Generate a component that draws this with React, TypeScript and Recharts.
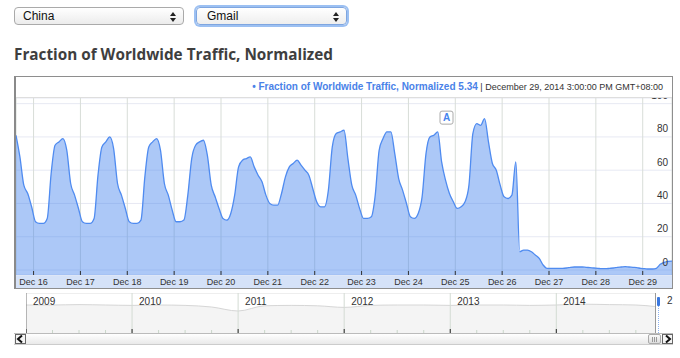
import React from "react";
import {
  ComposedChart,
  AreaChart,
  Area,
  XAxis,
  YAxis,
  CartesianGrid,
  ReferenceDot,
  ReferenceLine,
} from "recharts";

// hours counted from Dec 16 00:00 (GMT+08:00), one reading every 2 hours
const START_HOUR = -9;
const STEP_HOURS = 2;

const dec15 = [81, 68, 51, 46, 38];
const dec16 = [29, 28, 28, 31, 58, 75, 77, 79, 72, 52, 45, 37];
const dec17 = [29, 28, 28, 31, 57, 74, 77, 80, 73, 52, 45, 37];
const dec18 = [29, 28, 28, 30, 56, 74, 77, 79, 72, 52, 45, 36];
const dec19 = [29, 29, 30, 45, 67, 75, 77, 78, 69, 51, 44, 37];
const dec20 = [31, 30, 34, 45, 62, 66, 67, 68, 62, 57, 53, 45];
const dec21 = [40, 39, 39, 46, 56, 62, 64, 66, 63, 60, 57, 49];
const dec22 = [41, 38, 38, 48, 74, 82, 83, 84, 67, 51, 45, 37];
const dec23 = [31, 31, 32, 45, 72, 79, 83, 83, 70, 55, 48, 40];
const dec24 = [32, 31, 34, 44, 70, 80, 81, 83, 65, 54, 46, 41];
const dec25 = [37, 38, 41, 51, 82, 88, 87, 91, 77, 64, 60, 51];
const dec26 = [44, 43, 45, 65, 11, 12, 12, 11, 9, 7, 3, 1];
const dec27 = [1, 1, 1, 1, 1.2, 1.6, 1.8, 1.8, 1.8, 1.6, 1.4, 1.2];
const dec28 = [1, 0.8, 0.8, 1, 1.2, 1.6, 1.8, 2, 1.8, 1.6, 1.4, 1];
const dec29 = [0.8, 0.6, 0.6, 1, 3.4, 4.6, 5.2, 5.34];

const dayLabels = [
  "Dec 16", "Dec 17", "Dec 18", "Dec 19", "Dec 20", "Dec 21", "Dec 22",
  "Dec 23", "Dec 24", "Dec 25", "Dec 26", "Dec 27", "Dec 28", "Dec 29",
];
const yTicks = [0, 20, 40, 60, 80, 100];
const annotations = [{ t: 211.5, v: 91.6, label: "A" }];

// overview strip under the chart (quarterly)
const years = [2009, 2010, 2011, 2012, 2013, 2014];
const overviewTimes = [
  2009, 2009.25, 2009.5, 2009.75, 2010, 2010.25, 2010.5, 2010.75, 2011, 2011.25,
  2011.5, 2011.75, 2012, 2012.25, 2012.5, 2012.75, 2013, 2013.25, 2013.5, 2013.75,
  2014, 2014.25, 2014.5, 2014.75, 2014.94,
];
const overviewValues = [
  70, 70, 71, 70, 69, 70, 69, 65, 55, 68, 69, 68, 64, 69, 70, 70, 69, 70, 70, 69,
  70, 72, 71, 70, 66,
];

const allValues = [
  ...dec15, ...dec16, ...dec17, ...dec18, ...dec19, ...dec20, ...dec21, ...dec22,
  ...dec23, ...dec24, ...dec25, ...dec26, ...dec27, ...dec28, ...dec29,
];
const traffic = allValues.map((v, i) => ({ t: START_HOUR + i * STEP_HOURS, v }));
const dayTicks = dayLabels.map((_, i) => i * 24);
const overview = overviewTimes.map((year, i) => ({ year, v: overviewValues[i] }));
const quarterTicks = years.flatMap((y) => [y, y + 0.25, y + 0.5, y + 0.75]);

const SANS = "'Liberation Sans', Arial, sans-serif";

const DayTick = (props: any) => {
  const { x, y, payload } = props;
  return (
    <g>
      <line x1={x} x2={x} y1={y - 4} y2={y} stroke="#333" strokeWidth={1} />
      <text x={x} y={y + 10} textAnchor="middle" fontSize={9} fontFamily={SANS} fill="#333">
        {dayLabels[Math.round(payload.value / 24)]}
      </text>
    </g>
  );
};

// y labels sit inside the plot, right aligned, just above their grid line
const ValueTick = (props: any) => {
  const { y, payload } = props;
  return (
    <text x={652} y={y - 4.5} textAnchor="end" fontSize={10} fontFamily={SANS} fill="#333">
      {payload.value}
    </text>
  );
};

const YearTick = (props: any) => {
  const { x, y, payload } = props;
  const major = Number.isInteger(payload.value);
  return (
    <g>
      <line x1={x} x2={x} y1={y - (major ? 4 : 3)} y2={y} stroke={major ? "#222" : "#c9d6c9"} />
      {major && (
        <text x={x + 7} y={y - 28} fontSize={10} fontFamily={SANS} fill="#333">
          {payload.value}
        </text>
      )}
    </g>
  );
};

const Flag = (props: any) => {
  const { cx, cy } = props;
  return (
    <g>
      <rect x={cx - 6.5} y={cy - 6.5} width={13} height={13} rx={2} fill="#fff" stroke="#aaa" />
      <text x={cx} y={cy + 3.5} textAnchor="middle" fontSize={10} fontWeight="bold" fontFamily={SANS} fill="#4684ee">
        {annotations[0].label}
      </text>
    </g>
  );
};

const Arrows = () => (
  <svg width={6} height={10} style={{ position: "absolute", right: 7, top: 4 }}>
    <path d="M0 4 L3 0 L6 4 Z" fill="#222" />
    <path d="M0 6 L3 10 L6 6 Z" fill="#222" />
  </svg>
);

const Chevron = ({ dir }: { dir: "l" | "r" }) => (
  <svg width={9} height={8}>
    <path
      d={dir === "l" ? "M6 0.5 L2 4 L6 7.5" : "M3 0.5 L7 4 L3 7.5"}
      stroke="#111"
      strokeWidth={2}
      fill="none"
    />
  </svg>
);

const abs = (s: React.CSSProperties): React.CSSProperties => ({ position: "absolute", ...s });

export default function App() {
  return (
    <div style={abs({ left: 0, top: 0, width: 680, height: 358, background: "#fff", overflow: "hidden", fontFamily: SANS })}>
      {/* dropdowns */}
      <div
        style={abs({
          left: 14, top: 7, width: 170, height: 18, boxSizing: "border-box",
          border: "1px solid #aaa", borderRadius: 4,
          background: "linear-gradient(#ffffff, #ececec)", fontSize: 12, lineHeight: "16px",
          paddingLeft: 8, color: "#111",
        })}
      >
        China
        <Arrows />
      </div>
      <div
        style={abs({
          left: 196, top: 7, width: 151, height: 18, boxSizing: "border-box",
          border: "1px solid #7fa6e0", borderRadius: 4,
          boxShadow: "0 0 0 2px #9cc0f2", background: "linear-gradient(#ffffff, #eeeeee)",
          fontSize: 12, lineHeight: "16px", paddingLeft: 10, color: "#111",
        })}
      >
        Gmail
        <Arrows />
      </div>

      {/* title */}
      <div
        style={abs({
          left: 14, top: 43, fontFamily: "'Open Sans', sans-serif", fontWeight: 700,
          fontSize: 15.3, lineHeight: "22px", color: "#3e3e3e", whiteSpace: "nowrap",
        })}
      >
        Fraction of Worldwide Traffic, Normalized
      </div>

      {/* chart frame */}
      <div
        style={abs({
          left: 14, top: 76, width: 659, height: 213, boxSizing: "border-box",
          border: "1px solid #8e8e8e", borderLeft: "2px solid #8a8a8a",
        })}
      />
      <div style={abs({ left: 16, top: 97, width: 656, height: 1, background: "#dedede" })} />
      <div
        style={abs({
          right: 17, top: 80, whiteSpace: "nowrap", fontSize: 10, lineHeight: "13px",
        })}
      >
        <span style={{ color: "#4a82e8", fontWeight: 700 }}>
          {"\u2022 Fraction of Worldwide Traffic, Normalized 5.34"}
        </span>
        <span style={{ color: "#333", fontSize: 9 }}>{" | December 29, 2014 3:00:00 PM GMT+08:00"}</span>
      </div>

      {/* axis band */}
      <div style={abs({ left: 16, top: 275, width: 656, height: 13, background: "#d5e2f8" })} />

      <div style={abs({ left: 16, top: 98, width: 656, height: 190, overflow: "hidden" })}>
        <ComposedChart width={656} height={190} data={traffic} margin={{ top: 0, right: 0, bottom: 0, left: 0 }}>
          <CartesianGrid horizontal vertical={false} stroke="#e7e9f3" />
          <CartesianGrid horizontal={false} vertical stroke="#d8ddd8" />
          <XAxis
            dataKey="t"
            type="number"
            domain={[-9, 327]}
            ticks={dayTicks}
            interval={0}
            height={13}
            tickSize={0}
            tickMargin={0}
            axisLine={false}
            tickLine={false}
            allowDataOverflow
            tick={(p: any) => <DayTick {...p} />}
          />
          <YAxis
            orientation="right"
            mirror
            width={1}
            domain={[-3, 103.4]}
            ticks={yTicks}
            interval={0}
            allowDataOverflow
            axisLine={false}
            tickLine={false}
            tickSize={0}
            tickMargin={4}
            tick={(p: any) => <ValueTick {...p} />}
          />
          <Area
            type="monotone"
            dataKey="v"
            stroke="#4f8bf0"
            strokeWidth={1.3}
            fill="#4684ee"
            fillOpacity={0.45}
            baseValue="dataMin"
            dot={false}
            activeDot={false}
            isAnimationActive={false}
          />
          {annotations.map((a) => (
            <ReferenceDot key={a.label} x={a.t} y={a.v} shape={(p: any) => <Flag {...p} />} />
          ))}
        </ComposedChart>
      </div>

      {/* overview strip */}
      <div style={abs({ left: 26, top: 293, width: 630, height: 40, borderTop: "1px solid #eee", boxSizing: "border-box" })} />
      <div style={abs({ left: 26, top: 293, width: 630, height: 41 })}>
        <AreaChart width={630} height={41} data={overview} margin={{ top: 0, right: 0, bottom: 0, left: 0 }}>
          <XAxis
            dataKey="year"
            type="number"
            domain={[2009, 2014.94]}
            ticks={quarterTicks}
            interval={0}
            height={1}
            tickSize={0}
            tickMargin={0}
            axisLine={false}
            tickLine={false}
            allowDataOverflow
            tick={(p: any) => <YearTick {...p} />}
          />
          <YAxis hide domain={[0, 100]} />
          <Area
            type="monotone"
            dataKey="v"
            stroke="#d6d6d6"
            strokeWidth={1}
            fill="#f4f4f4"
            fillOpacity={1}
            baseValue="dataMin"
            dot={false}
            activeDot={false}
            isAnimationActive={false}
          />
          {years.map((y) => (
            <ReferenceLine key={y} x={y} stroke={y === 2009 ? "#777" : "#d3dbd3"} />
          ))}
        </AreaChart>
      </div>
      <div style={abs({ left: 655, top: 293, width: 1, height: 40, background: "#999" })} />
      <div style={abs({ left: 657, top: 297, width: 3, height: 9, background: "#3a78e0", borderRadius: 1 })} />
      <div style={abs({ left: 658, top: 306, width: 0, height: 27, borderLeft: "1px dotted #8cb2f0" })} />
      <div style={abs({ left: 667, top: 295, fontSize: 10, lineHeight: "12px", color: "#333" })}>2</div>

      {/* scroll bar */}
      <div
        style={abs({
          left: 14, top: 333, width: 659, height: 12, boxSizing: "border-box",
          borderTop: "1px solid #bbb", borderBottom: "1px solid #ccc",
          background: "linear-gradient(#ffffff, #e9e9e9)",
        })}
      />
      <div
        style={abs({
          left: 15, top: 334, width: 11, height: 10, boxSizing: "border-box", border: "1px solid #666",
          background: "#f4f4f4", display: "flex", alignItems: "center", justifyContent: "center",
        })}
      >
        <Chevron dir="l" />
      </div>
      <div
        style={abs({
          left: 648, top: 334, width: 13, height: 10, boxSizing: "border-box", border: "1px solid #aaa",
          borderRadius: 2, background: "linear-gradient(#fafafa, #dcdcdc)", display: "flex",
          alignItems: "center", justifyContent: "center", gap: 1,
        })}
      >
        <div style={{ width: 1, height: 5, background: "#999" }} />
        <div style={{ width: 1, height: 5, background: "#999" }} />
        <div style={{ width: 1, height: 5, background: "#999" }} />
      </div>
      <div
        style={abs({
          left: 662, top: 334, width: 11, height: 10, boxSizing: "border-box", border: "1px solid #666",
          background: "#f4f4f4", display: "flex", alignItems: "center", justifyContent: "center",
        })}
      >
        <Chevron dir="r" />
      </div>
    </div>
  );
}
